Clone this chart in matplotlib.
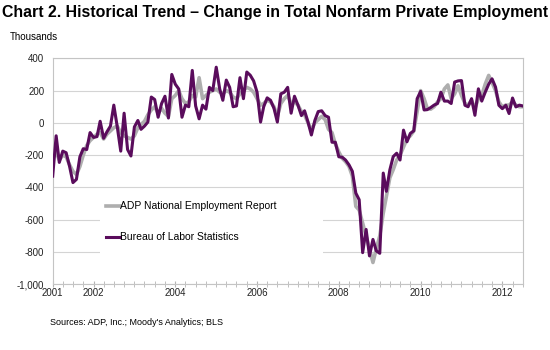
import matplotlib
matplotlib.use('Agg')
import matplotlib.pyplot as plt
import matplotlib.dates as mdates
from matplotlib.patches import Rectangle
from matplotlib.ticker import FuncFormatter
import pandas as pd

# monthly change, thousands
months = pd.date_range('2001-01-01', periods=139, freq='MS')

bls = [-330, -80, -245, -175, -185, -270, -370, -350, -210, -160, -165, -60,
       -90, -85, 10, -95, -55, -20, 110, -25, -175, 60, -165, -205,
       -25, 15, -40, -20, 5, 160, 145, 35, 120, 165, 30, 300,
       240, 210, 35, 110, 100, 325, 105, 25, 110, 85, 220, 200,
       345, 210, 140, 265, 220, 100, 105, 280, 150, 315, 295, 260,
       190, 5, 100, 155, 140, 90, 5, 180, 190, 220, 60, 165,
       110, 45, 75, 5, -75, 15, 70, 75, 45, 35, -120, -120,
       -210, -213, -230, -260, -300, -435, -476, -804, -660, -824, -722, -793,
       -808, -311, -424, -291, -209, -188, -230, -45, -117, -65, -49, 150,
       195, 80, 82, 95, 110, 120, 190, 135, 135, 120, 253, 260,
       262, 109, 100, 150, 47, 211, 135, 190, 240, 273, 222, 109,
       88, 109, 58, 154, 99, 110, 105]

adp = [-220, -180, -230, -200, -210, -260, -300, -320, -270, -200, -140, -110,
       -90, -70, -60, -100, -70, -50, -30, -20, -60, -80, -90, -100,
       -80, -30, -10, 10, 50, 80, 100, 60, 90, 60, 40, 150,
       170, 200, 150, 120, 130, 170, 160, 280, 150, 170, 190, 200,
       210, 190, 180, 200, 190, 160, 150, 180, 200, 220, 210, 190,
       150, 110, 120, 140, 130, 100, 40, 120, 150, 170, 120, 130,
       110, 70, 50, 0, -45, 0, 20, 40, 20, -40, -60, -130,
       -180, -220, -240, -270, -330, -517, -540, -620, -700, -780, -865, -780,
       -700, -560, -455, -340, -290, -230, -200, -150, -100, -80, -50, 70,
       200, 150, 90, 85, 100, 130, 150, 210, 235, 150, 180, 230,
       170, 120, 110, 140, 90, 150, 170, 240, 294, 250, 200, 130,
       100, 110, 110, 130, 110, 100, 100]

year_labels = [2001, 2002, 2004, 2006, 2008, 2010, 2012]
y_ticks = [400, 200, 0, -200, -400, -600, -800, -1000]

purple = '#5a0c5c'
grey = '#aeaeae'
grid_grey = '#d4d4d4'

plt.rcParams['font.family'] = ['Liberation Sans', 'DejaVu Sans']

fig = plt.figure(figsize=(5.5, 3.5), dpi=100)
ax = fig.add_axes([0.0958, 0.1877, 0.8546, 0.6457])

ax.plot(months, adp, color=grey, lw=2.6, solid_joinstyle='round', zorder=2,
        label='ADP National Employment Report')
ax.plot(months, bls, color=purple, lw=2.2, solid_joinstyle='round', zorder=3,
        label='Bureau of Labor Statistics')

ax.set_ylim(-1000, 400)
ax.set_xlim(months[0], months[-1])
ax.set_yticks(y_ticks)
ax.yaxis.set_major_formatter(FuncFormatter(lambda v, p: '{:,.0f}'.format(v)))
ax.set_xticks([pd.Timestamp(year=y, month=1, day=1) for y in year_labels])
ax.set_xticklabels([str(y) for y in year_labels])
ax.xaxis.set_minor_locator(mdates.MonthLocator(bymonth=[1, 4, 7, 10]))

ax.set_axisbelow(True)
ax.grid(axis='y', color=grid_grey, lw=0.8)
for side in ['left', 'right', 'top', 'bottom']:
    ax.spines[side].set_color('#c4c4c4')
    ax.spines[side].set_linewidth(0.8)

ax.tick_params(axis='y', length=0, labelsize=7, pad=6, colors='#222222')
ax.tick_params(axis='x', which='both', direction='inout', length=4,
               color='#b4b4b4', labelsize=7, pad=1, labelcolor='#222222')

# white box behind the legend hides the gridlines there
ax.add_patch(Rectangle((0.101, 0.10), 0.474, 0.305, transform=ax.transAxes,
                       facecolor='white', edgecolor='none', zorder=1))
leg = ax.legend(loc='upper left', bbox_to_anchor=(0.105, 0.385), frameon=False,
                fontsize=7.5, handlelength=1.35, handletextpad=0.0,
                labelspacing=2.0, borderaxespad=0)

fig.text(0.5, 0.963, 'Chart 2. Historical Trend \u2013 Change in Total Nonfarm Private Employment',
         ha='center', va='center', fontsize=11.4, fontweight='bold')
fig.text(0.018, 0.893, 'Thousands', ha='left', va='center', fontsize=7)
fig.text(0.091, 0.078, "Sources: ADP, Inc.; Moody's Analytics; BLS",
         ha='left', va='center', fontsize=6.5)

plt.savefig('out.png', dpi=100)
